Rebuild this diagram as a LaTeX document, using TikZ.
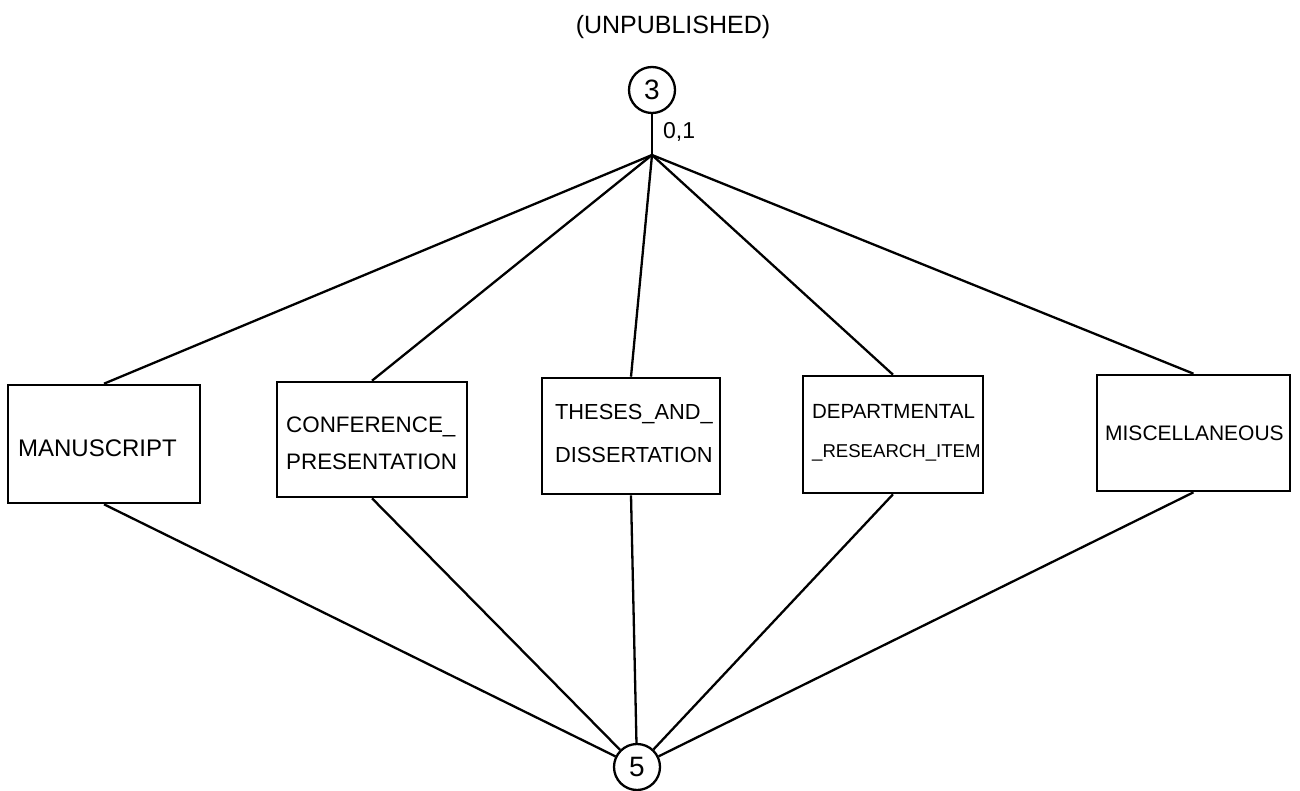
\documentclass[tikz,border=0pt]{standalone}
\usepackage{fontspec}
\setmainfont{Liberation Sans}
\begin{document}
\begin{tikzpicture}[x=1pt,y=-1pt,
  line width=2.3pt,
  box/.style={draw,line width=2.6pt,inner sep=0pt},
  lbl/.style={anchor=west,inner sep=0pt,align=left},
  num/.style={draw,circle,line width=2.3pt,minimum size=46pt,inner sep=0pt,font=\fontsize{28}{28}\selectfont}]
\useasboundingbox (0,0) rectangle (1300,791);

% header and the two numbered circles
\node[font=\fontsize{25}{25}\selectfont,inner sep=0pt] (title) at (673,27) {(UNPUBLISHED)};
\node[num] (c3) at (652,90) {3};
\node[num] (c5) at (637,767) {5};
\coordinate (j) at (652,155);
\node[anchor=west,inner sep=0pt,font=\fontsize{23}{23}\selectfont] (card) at (662,132) {0,1};

% category boxes
\node[box,minimum width=192pt,minimum height=118pt] (m)  at (104,444) {};
\node[box,minimum width=190pt,minimum height=115pt] (cp) at (372,439.5) {};
\node[box,minimum width=178pt,minimum height=116pt] (td) at (631,436) {};
\node[box,minimum width=180pt,minimum height=117pt] (dr) at (893,434.5) {};
\node[box,minimum width=193pt,minimum height=116pt] (mi) at (1193.5,433) {};

% box texts
\node[lbl,font=\fontsize{24}{0}\selectfont] (tm)  at (17,448) {MANUSCRIPT};
\node[lbl,font=\fontsize{22.4}{37}\selectfont] (tcp) at (285,443.5) {CONFERENCE\_\\PRESENTATION};
\node[lbl,font=\fontsize{21.8}{43}\selectfont] (ttd) at (554,433.5) {THESES\_AND\_\\DISSERTATION};
\node[lbl,font=\fontsize{20.5}{39}\selectfont] (tdr) at (811,432.5)
  {DEPARTMENTAL\\{\fontsize{18.6}{39}\selectfont\_RESEARCH\_ITEM}};
\node[lbl,font=\fontsize{21}{0}\selectfont] (tmi) at (1104,433) {MISCELLANEOUS};

% connectors
\draw (c3) -- (j);
\foreach \b in {m,cp,td,dr,mi} {
  \draw (j) -- (\b.north);
  \draw (\b.south) -- (c5);
}
\end{tikzpicture}
\end{document}
